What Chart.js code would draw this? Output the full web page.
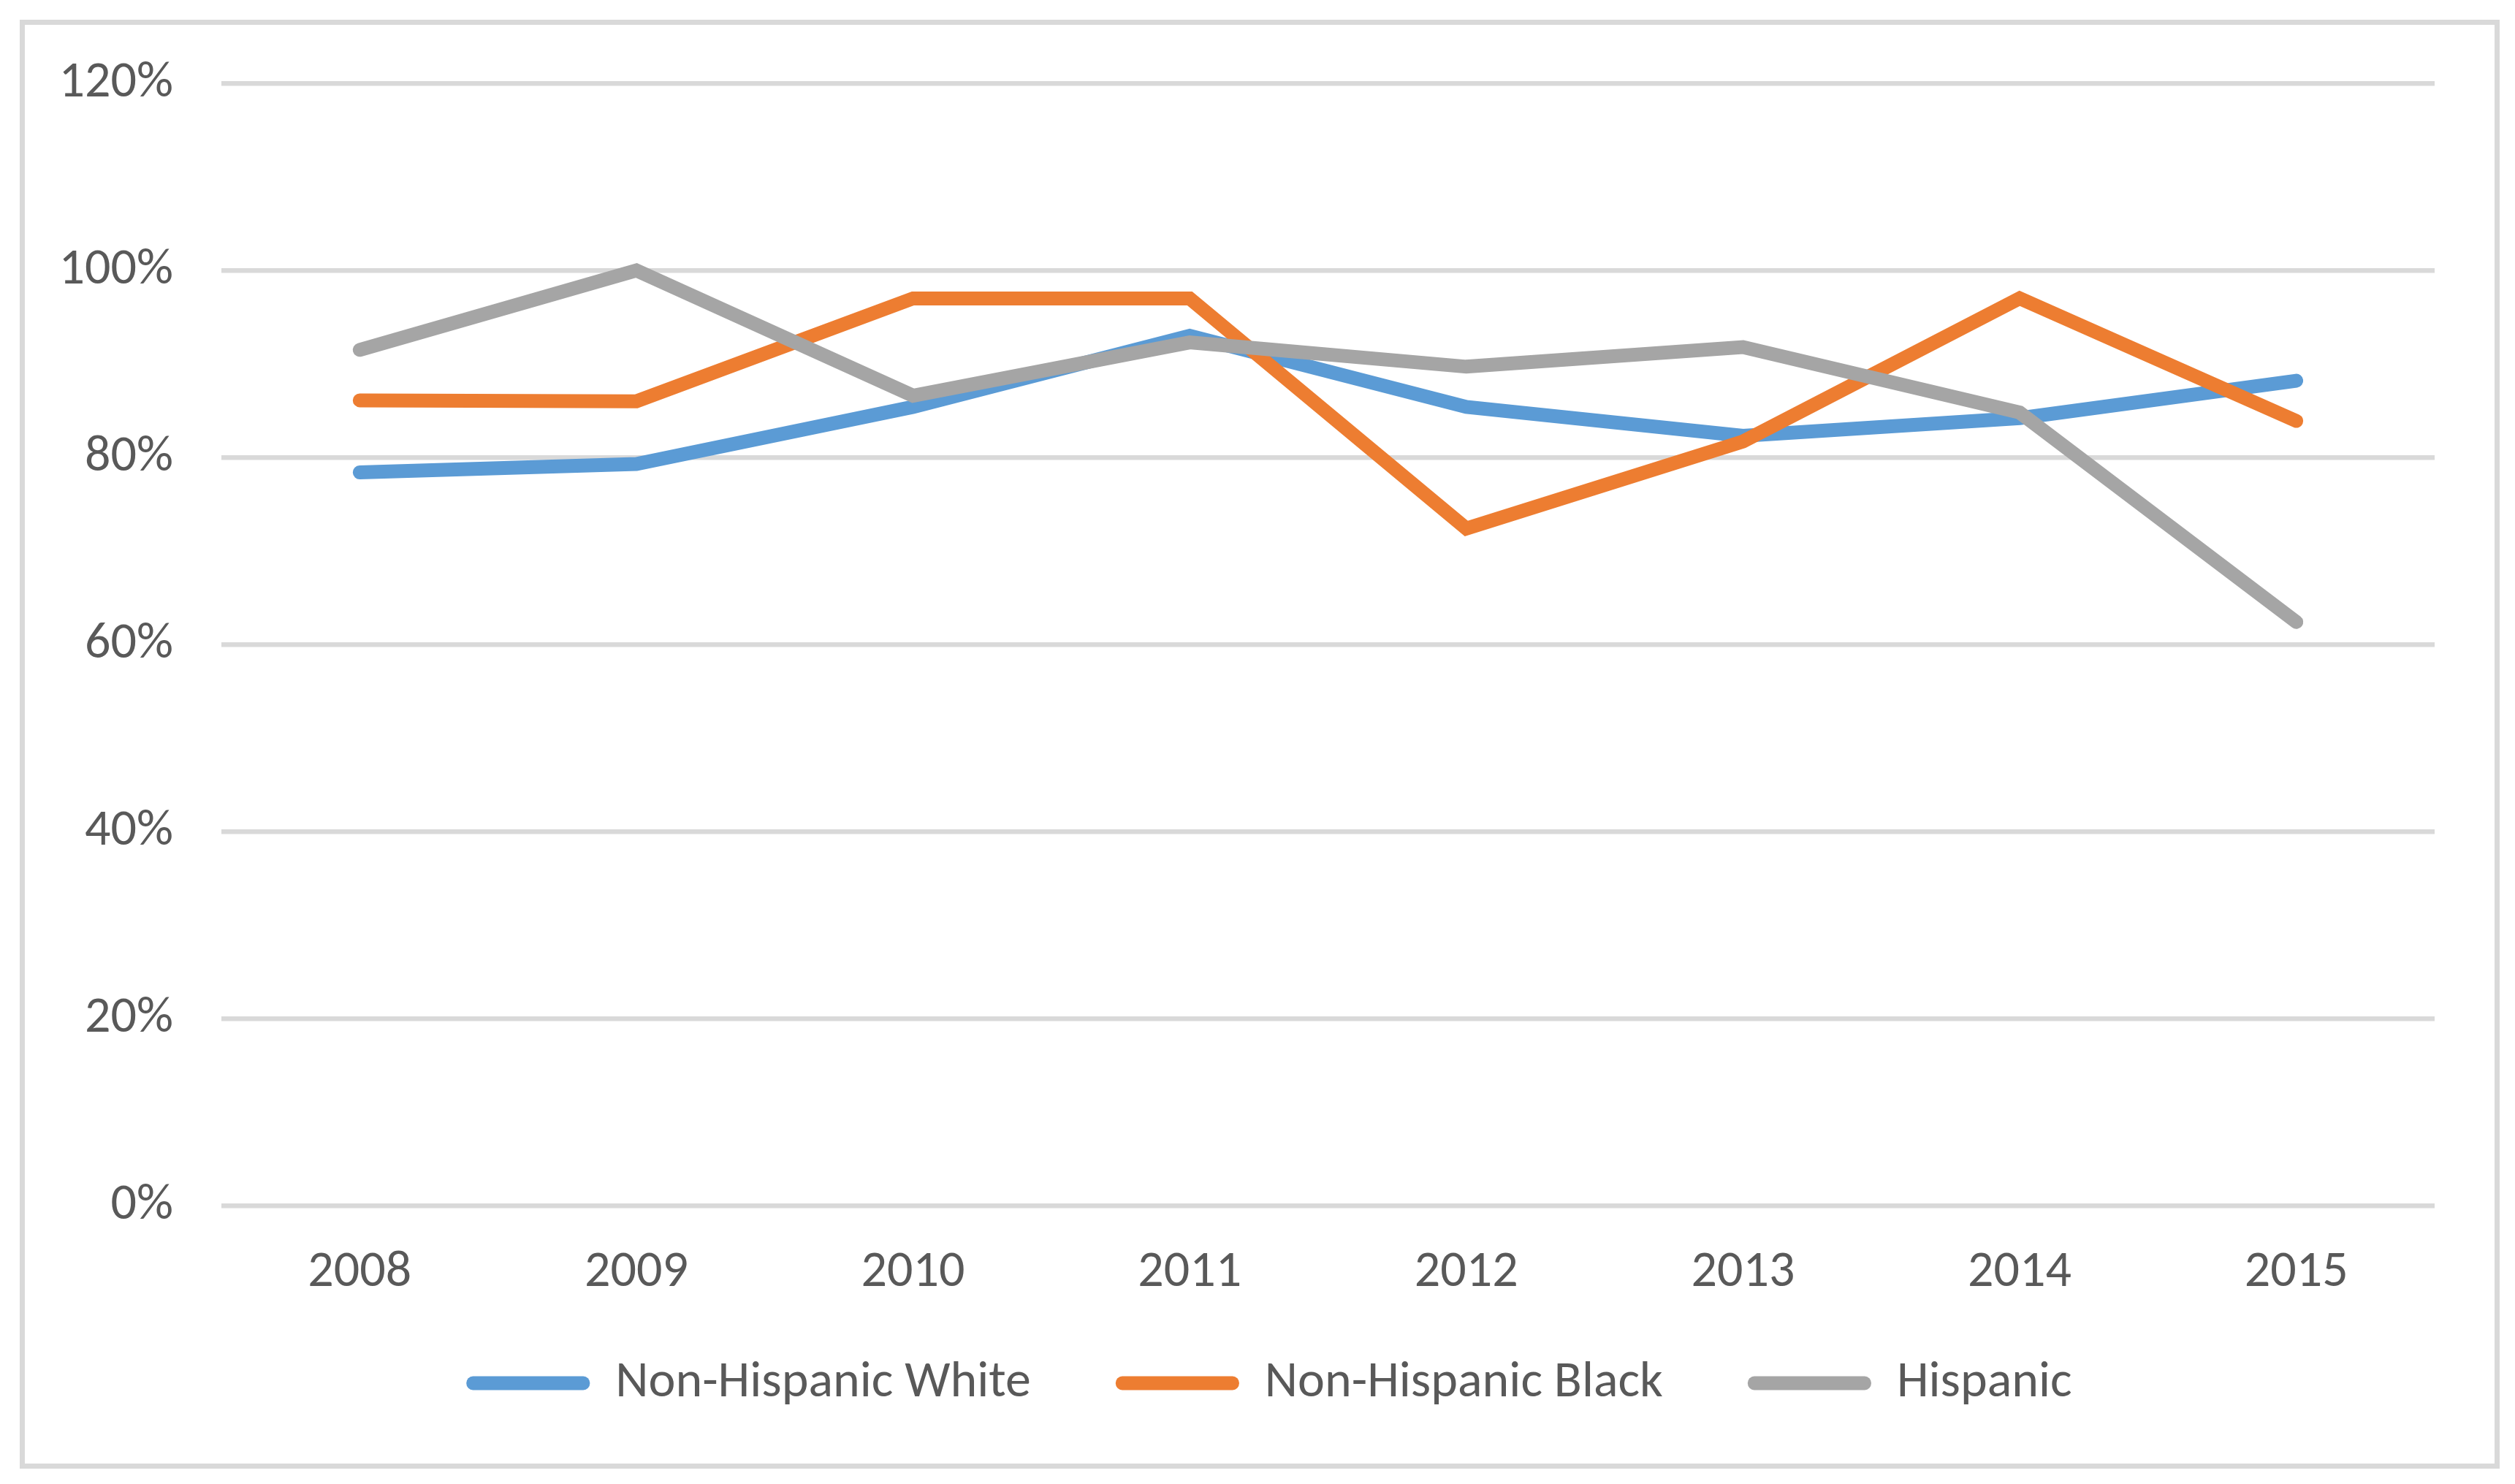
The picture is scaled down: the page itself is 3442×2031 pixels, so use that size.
<!DOCTYPE html>
<html>
<head>
<meta charset="utf-8">
<script src="https://cdn.jsdelivr.net/npm/chart.js@4.4.0/dist/chart.umd.min.js"></script>
<style>
  html, body { margin: 0; padding: 0; background: #fff; }
  #frame {
    position: absolute; left: 27px; top: 27px;
    width: 3394px; height: 1983px;
    box-sizing: border-box; border: 7px solid #d9d9d9;
  }
  #chart { position: absolute; left: 0; top: 0; }
</style>
</head>
<body>
<div id="frame"></div>
<canvas id="chart" width="3442" height="2031"></canvas>
<script>
// years on the x axis
const years = ['2008', '2009', '2010', '2011', '2012', '2013', '2014', '2015'];

// share per group (fractions, shown as %)
const nhWhite = [0.784, 0.793, 0.854, 0.930, 0.854, 0.823, 0.842, 0.882];
const nhBlack = [0.861, 0.860, 0.970, 0.970, 0.724, 0.817, 0.970, 0.839];
const hispanic = [0.915, 1.000, 0.866, 0.923, 0.897, 0.918, 0.848, 0.624];

const seriesNames = ['Non-Hispanic White', 'Non-Hispanic Black', 'Hispanic'];
const seriesColors = ['#5b9bd5', '#ed7d31', '#a5a5a5'];

const yTicks = [0, 0.2, 0.4, 0.6, 0.8, 1.0, 1.2];

const fontFamily = 'Carlito, Lato, sans-serif';
const fontSize = 70;
const textColor = '#595959';

function makeSet(i, values) {
    return {
        label: seriesNames[i],
        data: values,
        borderColor: seriesColors[i],
        backgroundColor: seriesColors[i],
        borderWidth: 19,
        borderCapStyle: 'round',
        borderJoinStyle: 'miter',
        pointRadius: 0,
        pointHoverRadius: 0,
        tension: 0,
        order: 3 - i // later series drawn on top, like Excel
    };
}

// nudge the legend box so it sits where the Excel legend sits
const legendShift = {
    id: 'legendShift',
    afterLayout(chart) {
        const lg = chart.legend;
        if (!lg) return;
        lg.left += 71; lg.right += 71;
        lg.top -= 50; lg.bottom -= 50;
    }
};

const ctx = document.getElementById('chart');
new Chart(ctx, {
    type: 'line',
    data: {
        labels: years,
        datasets: [makeSet(0, nhWhite), makeSet(1, nhBlack), makeSet(2, hispanic)]
    },
    options: {
        responsive: false,
        devicePixelRatio: 1,
        animation: false,
        layout: { padding: { left: 0, right: 110, top: 114, bottom: 43 } },
        scales: {
            x: {
                offset: true,
                grid: { display: false, drawTicks: false },
                border: { display: false },
                ticks: {
                    color: textColor,
                    font: { family: fontFamily, size: fontSize },
                    padding: 50,
                    maxRotation: 0
                },
                afterFit: function(scale) { scale.height = 142; }
            },
            y: {
                min: 0,
                max: 1.2,
                afterBuildTicks: function(scale) {
                    scale.ticks = yTicks.map(v => ({ value: v }));
                },
                grid: { color: '#d9d9d9', lineWidth: 6.5, drawTicks: false },
                border: { display: false },
                ticks: {
                    color: textColor,
                    font: { family: fontFamily, size: fontSize },
                    padding: 66,
                    callback: v => Math.round(v * 100) + '%'
                },
                afterFit: function(scale) { scale.width = 303; }
            }
        },
        plugins: {
            tooltip: { enabled: false },
            legend: {
                position: 'bottom',
                labels: {
                    color: textColor,
                    font: { family: fontFamily, size: fontSize },
                    boxWidth: 169,
                    boxHeight: 19,
                    useBorderRadius: true,
                    borderRadius: 9,
                    padding: 116,
                    sort: (a, b) => a.datasetIndex - b.datasetIndex,
                    generateLabels: function(chart) {
                        const items = Chart.defaults.plugins.legend.labels.generateLabels(chart);
                        return items.map(it => Object.assign(it, { lineWidth: 0, fillStyle: it.strokeStyle }));
                    }
                }
            }
        }
    },
    plugins: [legendShift]
});
</script>
</body>
</html>
